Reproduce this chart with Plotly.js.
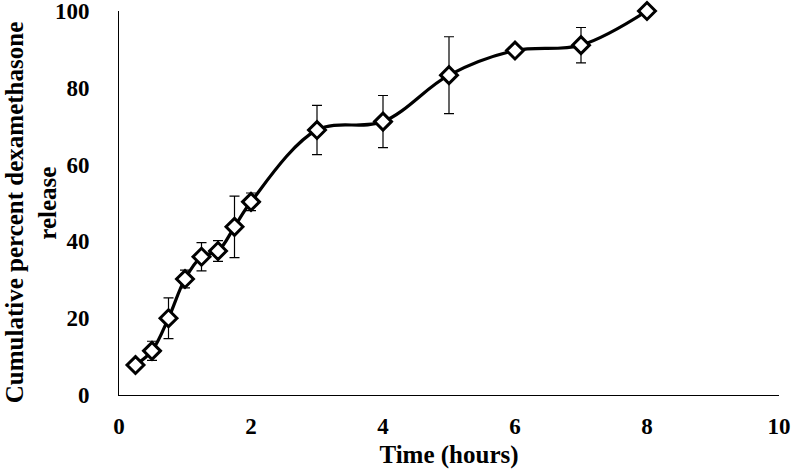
<!DOCTYPE html>
<html>
<head>
<meta charset="utf-8">
<script src="https://cdn.plot.ly/plotly-3.0.1.min.js"></script>
<style>html,body{margin:0;padding:0;background:#fff;}#chart{width:792px;height:474px;}</style>
</head>
<body>
<div id="chart"></div>
<script>
const timeHours = [0.25, 0.5, 0.75, 1.0, 1.25, 1.5, 1.75, 2, 3, 4, 5, 6, 7, 8];
const releasePct = [7.8, 11.5, 20, 30.2, 36, 37.5, 43.8, 50.3, 69, 71.2, 83.3, 89.7, 91.1, 100];
const releaseErr = [0, 2.5, 5.3, 2.3, 3.7, 2.7, 8, 2.3, 6.4, 6.8, 10, 0, 4.6, 0];
const xTicks = [0, 2, 4, 6, 8, 10];
const yTicks = [0, 20, 40, 60, 80, 100];
const xTitle = 'Time (hours)';
const yTitleLines = ['Cumulative percent dexamethasone', 'release'];

const fam = '"Liberation Serif", "Times New Roman", serif';

const trace = {
  x: timeHours, y: releasePct, type: 'scatter', mode: 'lines+markers', cliponaxis: false,
  line: {color: '#000', width: 3.2, shape: 'spline', smoothing: 1},
  marker: {symbol: 'diamond', size: 13, color: '#fff', line: {color: '#000', width: 3}},
  error_y: {type: 'data', array: releaseErr, visible: true, color: '#000', thickness: 1.2, width: 5},
  showlegend: false
};

const layout = {
  width: 792, height: 474,
  margin: {l: 119, r: 13, t: 11, b: 79},
  paper_bgcolor: '#fff', plot_bgcolor: '#fff',
  font: {family: fam, color: '#000'},
  xaxis: {
    range: [0, 10], tickvals: xTicks, ticktext: xTicks.map(String),
    showgrid: false, zeroline: false, showline: true, linecolor: '#000', linewidth: 1,
    ticks: '', ticklabelstandoff: 10, ticklabeloverflow: 'allow',
    tickfont: {family: fam, size: 23, color: '#000', weight: 'bold'},
    title: {text: '<b>' + xTitle + '</b>', font: {family: fam, size: 25, color: '#000'}, standoff: 7}
  },
  yaxis: {
    range: [0, 100], tickvals: yTicks, ticktext: yTicks.map(String),
    showgrid: false, zeroline: false, showline: true, linecolor: '#000', linewidth: 1,
    ticks: '', ticklabelstandoff: 24, ticklabeloverflow: 'allow',
    tickfont: {family: fam, size: 23, color: '#000', weight: 'bold'}
  },
  annotations: [{
    text: '<b>' + yTitleLines[0] + '&nbsp;&nbsp;&nbsp;<br>' + yTitleLines[1] + '</b>',
    xref: 'paper', yref: 'paper', x: -0.133, y: 0.5,
    xanchor: 'center', yanchor: 'middle', textangle: -90, showarrow: false,
    borderpad: 0,
    font: {family: fam, size: 25, color: '#000'}
  }]
};

Plotly.newPlot('chart', [trace], layout, {displayModeBar: false, staticPlot: true});
</script>
</body>
</html>
